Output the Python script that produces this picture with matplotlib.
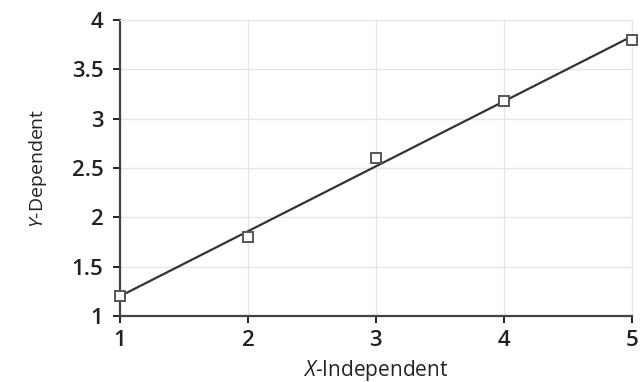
import matplotlib
matplotlib.use('Agg')
import matplotlib.pyplot as plt
import numpy as np

plt.rcParams['font.family'] = ['Open Sans', 'DejaVu Sans']
plt.rcParams['mathtext.fontset'] = 'custom'
plt.rcParams['mathtext.it'] = 'Open Sans:italic'
plt.rcParams['mathtext.rm'] = 'Open Sans'

x = [1, 2, 3, 4, 5]
y = [1.2, 1.8, 2.6, 3.18, 3.8]
xticks = [1, 2, 3, 4, 5]
yticks = [1, 1.5, 2, 2.5, 3, 3.5, 4]
ytick_labels = ['1', '1.5', '2', '2.5', '3', '3.5', '4']

# least squares line through the points
k, b = np.polyfit(x, y, 1)
fx = np.array([x[0], x[-1]])

fig = plt.figure(figsize=(6.42, 3.82), dpi=100)
ax = fig.add_axes([0.187, 0.173, 0.797, 0.775])

ax.plot(fx, k * fx + b, color='#333333', lw=1.6, zorder=3)
ax.plot(x, y, ls='none', marker='s', ms=7.5, mfc='white', mec='#555555', mew=1.4, zorder=4, clip_on=False)

ax.set_xlim(1, 5)
ax.set_ylim(1, 4)
ax.set_xticks(xticks)
ax.set_yticks(yticks)
ax.set_yticklabels(ytick_labels)
ax.grid(True, color='#e6e6e6', lw=1)
ax.set_axisbelow(True)

for s in ['top', 'right']:
    ax.spines[s].set_color('#e6e6e6')
for s in ['left', 'bottom']:
    ax.spines[s].set_color('#444444')
    ax.spines[s].set_linewidth(1.6)

ax.tick_params(axis='both', labelsize=16, colors='#222222', length=5, width=1.4, direction='out')
ax.tick_params(axis='x', pad=5)
ax.tick_params(axis='y', pad=7)
for t in ax.get_xticklabels() + ax.get_yticklabels():
    t.set_fontweight('semibold')

ax.set_xlabel(r'$\it{X}$-Independent', fontsize=15, color='#222222', labelpad=5)
ax.set_ylabel(r'$\it{Y}$-Dependent', fontsize=14, color='#222222', labelpad=16)

fig.savefig('out.png', dpi=100)
